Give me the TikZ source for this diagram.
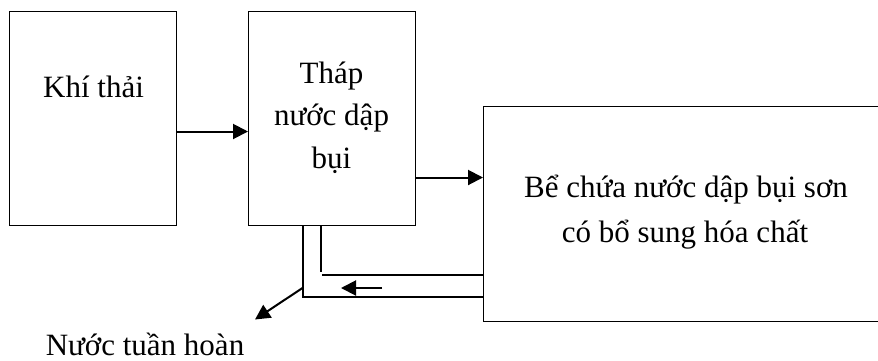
\documentclass[tikz,border=0pt]{standalone}
\usepackage{fontspec}
\setmainfont{Liberation Serif}
\usetikzlibrary{arrows.meta}
\begin{document}
\begin{tikzpicture}[x=1pt,y=-1pt,
  box/.style={draw,line width=1.3pt,inner sep=0pt,anchor=north west},
  lbl/.style={font=\fontsize{31}{42}\selectfont,anchor=base,inner sep=0pt},
  flow/.style={line width=2pt,-{Triangle[length=15pt,width=15pt]}},
  pipe/.style={line width=1.3pt}]
\useasboundingbox (0,0) rectangle (878,360);
\begin{scope}
\clip (0,0) rectangle (878,360);
% process boxes
\node[box,minimum width=167pt,minimum height=214pt] (kt) at (9,10.5) {};
\node[box,minimum width=167pt,minimum height=214pt] (tower) at (248,10.5) {};
\node[box,minimum width=420pt,minimum height=215pt] (tank) at (483,105.5) {};
% labels
\node[lbl] (ktText) at (93.5,97) {Khí thải};
\node[lbl] (towerA) at (331.5,83) {Tháp};
\node[lbl] (towerB) at (331.5,125.5) {nước dập};
\node[lbl] (towerC) at (331.5,168) {bụi};
\node[lbl] (tankA) at (686,197) {Bể chứa nước dập bụi sơn};
\node[lbl] (tankB) at (685,242) {có bổ sung hóa chất};
\node[lbl] (recyc) at (145,355) {Nước tuần hoàn};
% main flow
\coordinate (y1) at (0,131.5);
\coordinate (y2) at (0,177.5);
\draw[flow] (kt.east |- y1) -- (tower.west |- y1);
\draw[flow] (tower.east |- y2) -- (tank.west |- y2);
% return pipe from the tank to the tower
\coordinate (po) at (303,297);
\coordinate (pi) at (321,272);
\coordinate (pj) at (322,275);
\draw[pipe] (tower.south -| po) -- (po) -- (tank.west |- po);
\draw[pipe] (tower.south -| pi) -- (pi);
\draw[pipe] (pj) -- (tank.west |- pj);
\coordinate (r1) at (382,288);
\coordinate (r2) at (341,288);
\draw[flow] (r1) -- (r2);
% outlet of recirculated water
\coordinate (d1) at (302.5,288);
\coordinate (d2) at (255,319.5);
\draw[flow] (d1) -- (d2);
\end{scope}
\end{tikzpicture}
\end{document}
